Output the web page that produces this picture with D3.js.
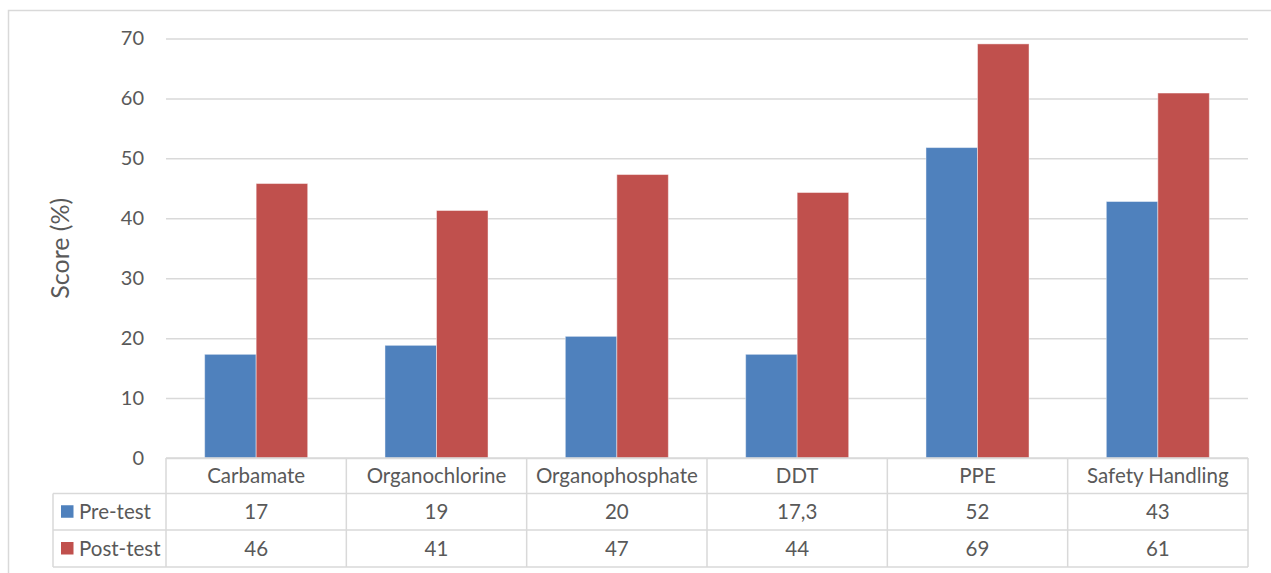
<!DOCTYPE html>
<html>
<head>
<meta charset="utf-8">
<script src="https://cdn.jsdelivr.net/npm/d3@7"></script>
<style>
  html, body { margin: 0; padding: 0; background: #fff; }
  svg { display: block; }
  text { font-family: Lato, "Open Sans", sans-serif; fill: #595959; }
</style>
</head>
<body>
<svg id="chart" width="1271" height="573"></svg>
<script>
const categories = ["Carbamate", "Organochlorine", "Organophosphate", "DDT", "PPE", "Safety Handling"];
const seriesNames = ["Pre-test", "Post-test"];
const preTest = [17.3, 18.8, 20.3, 17.3, 51.8, 42.8];
const postTest = [45.8, 41.3, 47.3, 44.3, 69.1, 60.9];
const preLabels = ["17", "19", "20", "17,3", "52", "43"];
const postLabels = ["46", "41", "47", "44", "69", "61"];
const yTicks = [0, 10, 20, 30, 40, 50, 60, 70];
const yTitle = "Score (%)";
const colors = ["#4F81BD", "#C0504D"];

const svg = d3.select("#chart");
const gridColor = "#d9d9d9";
const fs = 20.5;

// outer frame
svg.append("path")
  .attr("d", "M8.5,573 L8.5,10.5 L1271,10.5")
  .attr("fill", "none").attr("stroke", gridColor).attr("stroke-width", 1.5);

const plot = { left: 166, right: 1248, top: 38.5, bottom: 458 };
const x = d3.scaleBand().domain(categories).range([plot.left, plot.right]).padding(0);
const x1 = d3.scaleBand().domain(seriesNames).range([0, x.bandwidth()]).paddingInner(0).paddingOuter(0.75);
const y = d3.scaleLinear().domain([0, 70]).range([plot.bottom, plot.top]);

// gridlines + ticks via axis
const yAxis = d3.axisLeft(y).tickValues(yTicks).tickSize(-(plot.right - plot.left)).tickPadding(22).tickFormat(d3.format("d"));
const gy = svg.append("g").attr("transform", `translate(${plot.left},0)`).call(yAxis);
gy.select(".domain").remove();
gy.selectAll(".tick line").attr("stroke", gridColor).attr("stroke-width", 1.5);
gy.selectAll(".tick text").attr("font-size", 20).attr("fill", "#595959")
  .style("font-family", "Lato, sans-serif");

// y title
svg.append("text")
  .attr("transform", `translate(69,${(plot.top + plot.bottom) / 2 + 0}) rotate(-90)`)
  .attr("text-anchor", "middle").attr("font-size", 25).text(yTitle);

// bars
const series = [preTest, postTest];
series.forEach((vals, si) => {
  svg.append("g").selectAll("rect").data(vals).join("rect")
    .attr("x", (d, i) => x(categories[i]) + x1(seriesNames[si]))
    .attr("width", x1.bandwidth())
    .attr("y", d => y(d))
    .attr("height", d => y(0) - y(d))
    .attr("fill", colors[si])
    .attr("stroke", "#ffffff").attr("stroke-opacity", 0.45).attr("stroke-width", 1);
});

// data table
const rows = [458, 493.5, 530, 567];
const legendLeft = 53;
const tg = svg.append("g");
const line = (x1_, y1_, x2_, y2_) => tg.append("line")
  .attr("x1", x1_).attr("y1", y1_).attr("x2", x2_).attr("y2", y2_)
  .attr("stroke", gridColor).attr("stroke-width", 1.5);

line(plot.left, rows[0], plot.right, rows[0]);
line(legendLeft, rows[1], plot.right, rows[1]);
line(legendLeft, rows[2], plot.right, rows[2]);
line(legendLeft, rows[3], plot.right, rows[3]);
line(legendLeft, rows[1], legendLeft, rows[3]);
categories.forEach(c => line(x(c), rows[0], x(c), rows[3]));
line(plot.right, rows[0], plot.right, rows[3]);

// header labels
tg.selectAll("text.cat").data(categories).join("text")
  .attr("class", "cat")
  .attr("x", d => x(d) + x.bandwidth() / 2)
  .attr("y", (rows[0] + rows[1]) / 2)
  .attr("dy", "0.35em")
  .attr("text-anchor", "middle").attr("font-size", fs).text(d => d);

// rows
const labelRows = [preLabels, postLabels];
labelRows.forEach((labs, si) => {
  const cy = (rows[si + 1] + rows[si + 2]) / 2;
  tg.append("rect").attr("x", 61).attr("y", cy - 6.5).attr("width", 12.5).attr("height", 12.5).attr("fill", colors[si]);
  tg.append("text").attr("x", 79).attr("y", cy).attr("dy", "0.35em").attr("font-size", fs).text(seriesNames[si]);
  tg.selectAll(null).data(labs).join("text")
    .attr("x", (d, i) => x(categories[i]) + x.bandwidth() / 2)
    .attr("y", cy).attr("dy", "0.35em")
    .attr("text-anchor", "middle").attr("font-size", fs).text(d => d);
});
</script>
</body>
</html>
